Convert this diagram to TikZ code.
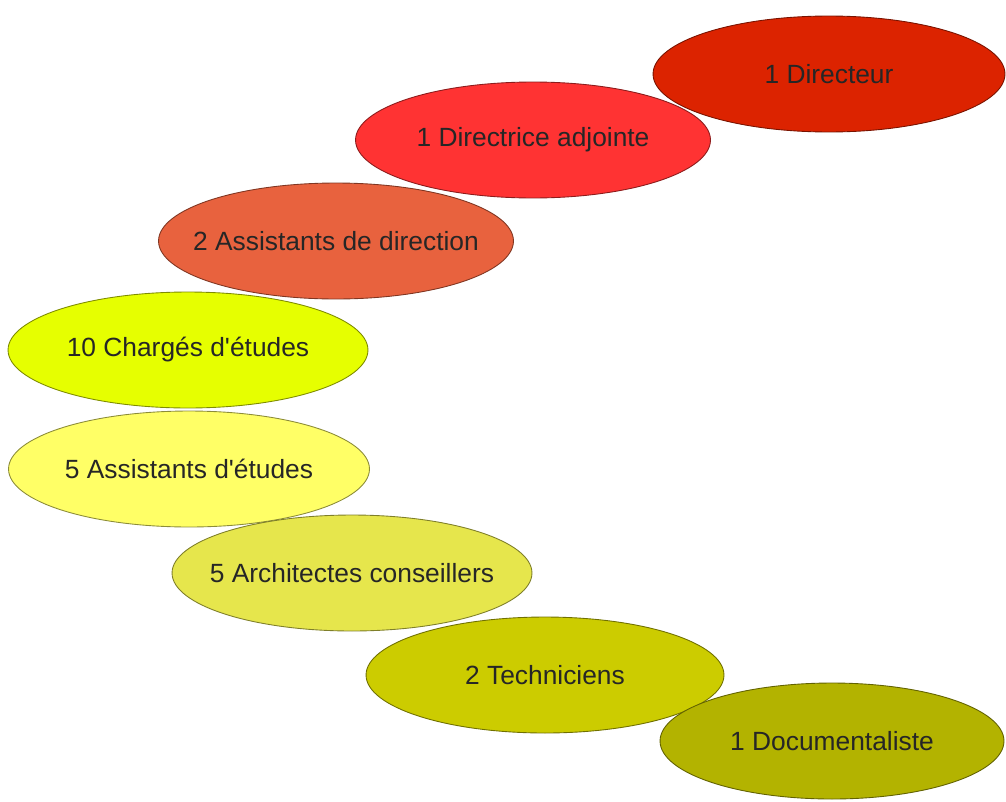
\documentclass[tikz,border=0pt]{standalone}
\usepackage{fontspec}
\setmainfont{Liberation Sans}
\usepackage{tikz}
\usetikzlibrary{shapes.geometric}
\usepackage{xcolor}
\definecolor{dirRed}{HTML}{DC2300}
\definecolor{adjRed}{HTML}{FF3333}
\definecolor{assOrange}{HTML}{E8623E}
\definecolor{chgYellow}{HTML}{E6FF00}
\definecolor{aetYellow}{HTML}{FFFF66}
\definecolor{arcYellow}{HTML}{E6E64C}
\definecolor{tecOlive}{HTML}{CCCC00}
\definecolor{docOlive}{HTML}{B3B300}
% label of zero width, so the ellipse keeps its given size
\newcommand{\rolelabel}[1]{\makebox[0pt]{#1}}

\begin{document}
\begin{tikzpicture}[x=0.02cm, y=-0.02cm,
    level/.style={ellipse, fill=#1, draw=#1!55!black, line width=0.5pt,
      minimum width=7.1cm, minimum height=2.32cm, inner sep=0pt,
      text=black!85, font=\fontsize{15}{18}\selectfont}]
        % --- page frame ---
        \useasboundingbox (0,0) rectangle (1006,801);

        % --- direction ---
        \node[level=dirRed, minimum width=7.04cm] (directeur) at (829,74) {\rolelabel{1 Directeur}};
        \node[level=adjRed] (adjointe) at (533,140) {\rolelabel{1 Directrice adjointe}};
        \node[level=assOrange] (assdir) at (336,241) {\rolelabel{2 Assistants de direction}};

        % --- etudes ---
        \node[level=chgYellow, minimum width=7.2cm] (charges) at (188,350) {\rolelabel{10 Chargés d\textquotesingle études}};
        \node[level=aetYellow, minimum width=7.22cm] (assetu) at (189,469) {\rolelabel{5 Assistants d\textquotesingle études}};
        \node[level=arcYellow, minimum width=7.2cm] (archi) at (352,573) {\rolelabel{5 Architectes conseillers}};

        % --- technique ---
        \node[level=tecOlive, minimum width=7.16cm] (techn) at (545,675) {\rolelabel{2 Techniciens}};
        \node[level=docOlive, minimum width=6.88cm] (doc) at (832,741) {\rolelabel{1 Documentaliste}};
      \end{tikzpicture}
\end{document}
